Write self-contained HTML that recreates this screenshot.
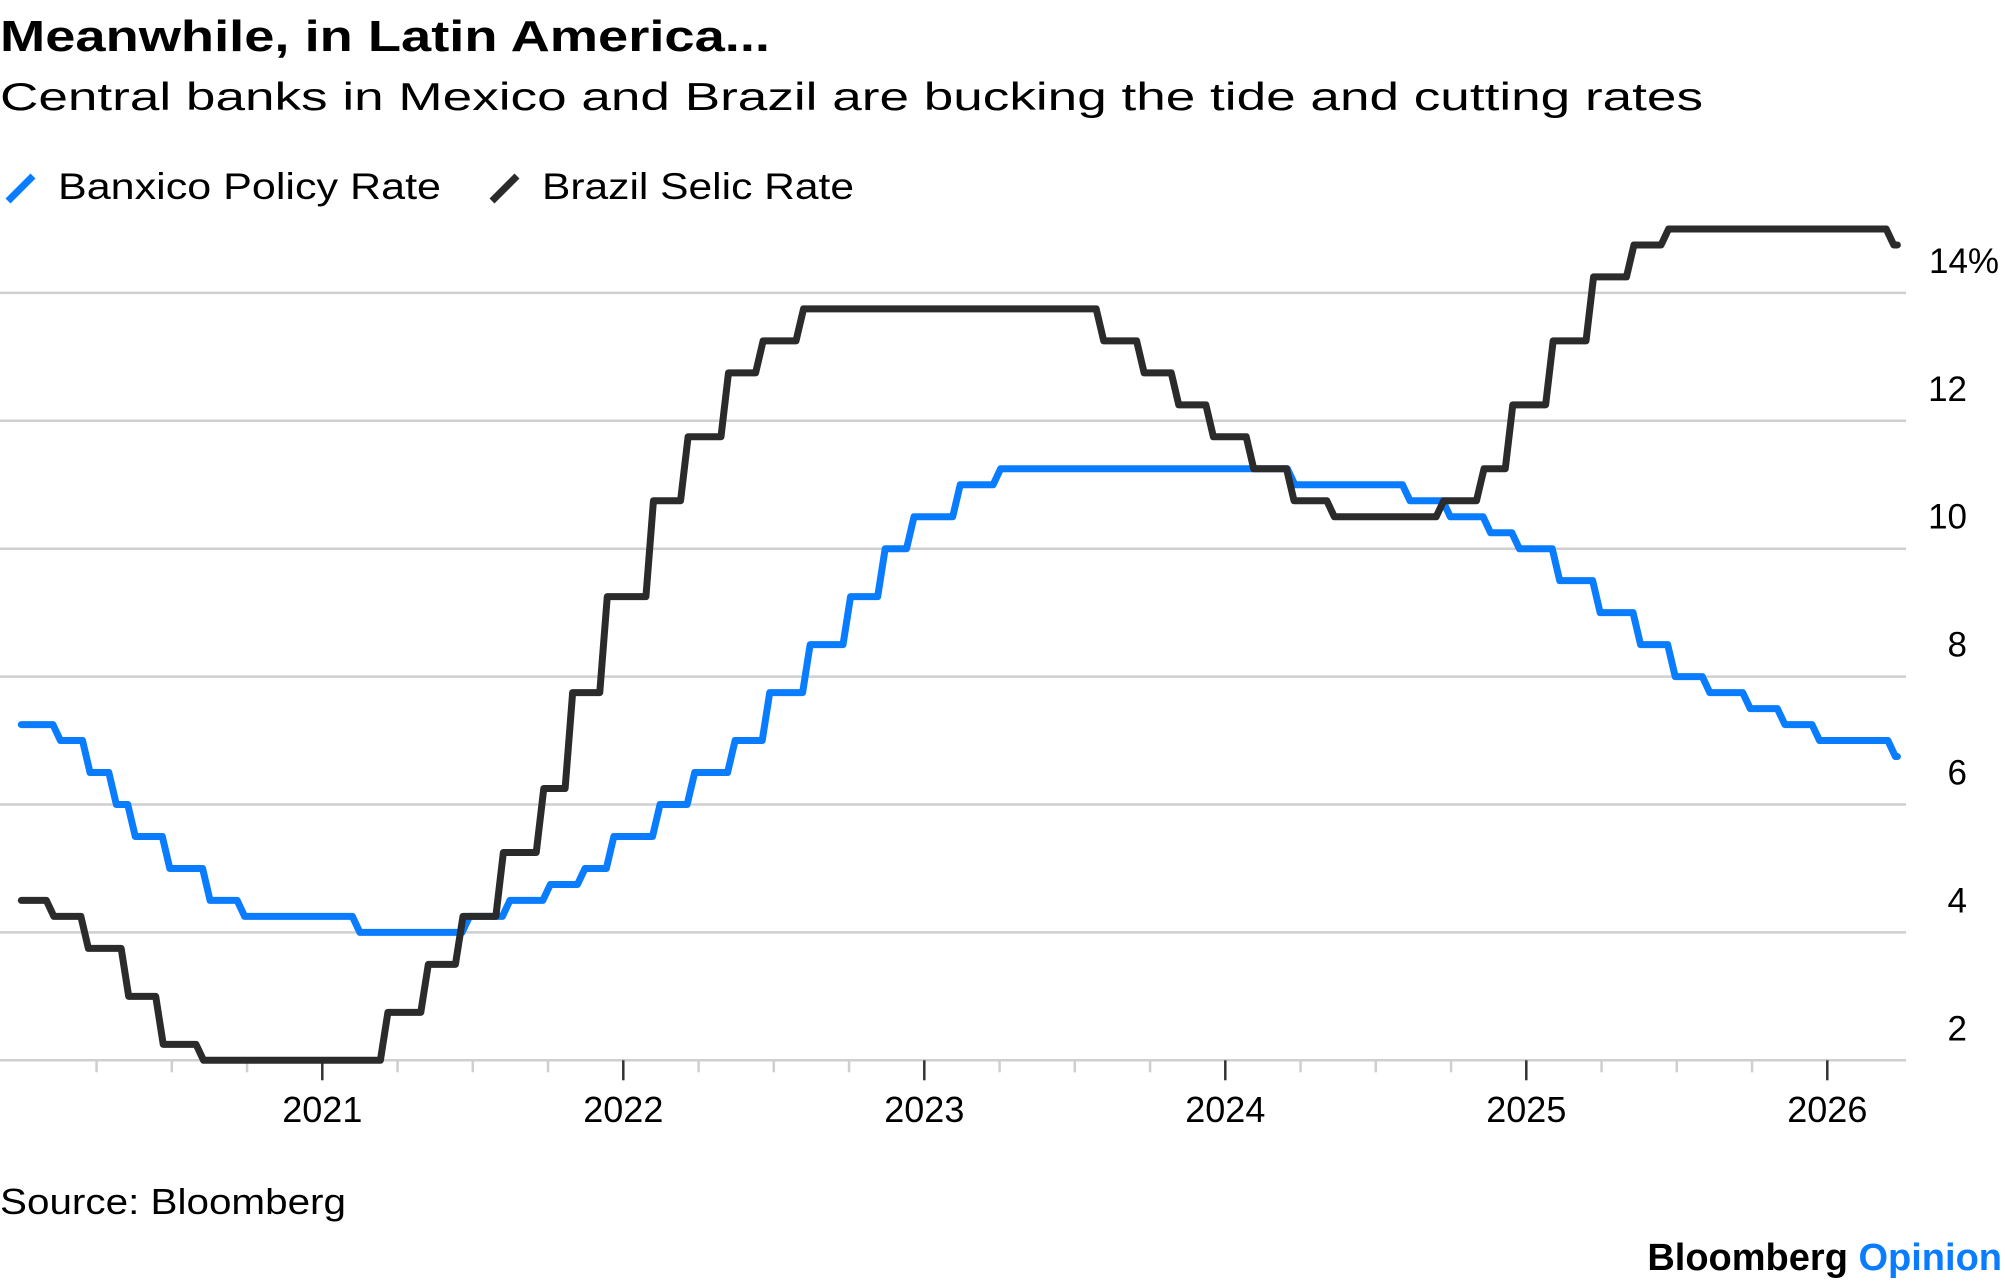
<!DOCTYPE html>
<html><head><meta charset="utf-8"><style>
html,body{margin:0;padding:0;background:#fff;}
svg{display:block;font-family:"Liberation Sans",Arial,sans-serif;}
</style></head><body>
<svg id="chart" width="2005" height="1287" viewBox="0 0 2005 1287">
<text x="0" y="51" font-size="44" font-weight="bold" textLength="770" lengthAdjust="spacingAndGlyphs" fill="#000">Meanwhile, in Latin America...</text>
<text x="0" y="110" font-size="39" textLength="1703" lengthAdjust="spacingAndGlyphs" fill="#000">Central banks in Mexico and Brazil are bucking the tide and cutting rates</text>
<g>
<g>
<line x1="8" y1="201" x2="33" y2="176" stroke="#0a7cff" stroke-width="7"/>
<text x="58" y="199" font-size="37" textLength="383" lengthAdjust="spacingAndGlyphs">Banxico Policy Rate</text>
</g>
<g>
<line x1="492" y1="201" x2="517" y2="176" stroke="#2b2b2b" stroke-width="7"/>
<text x="542" y="199" font-size="37" textLength="312" lengthAdjust="spacingAndGlyphs">Brazil Selic Rate</text>
</g>
</g>
<g id="grid"></g>
<g id="yaxis"></g>
<g id="xaxis"></g>
<g id="series"></g>
<text x="0" y="1214" font-size="36" textLength="346" lengthAdjust="spacingAndGlyphs">Source: Bloomberg</text>
<text x="2002" y="1270" font-size="38" font-weight="bold" text-anchor="end"><tspan fill="#000">Bloomberg </tspan><tspan fill="#0a7cff">Opinion</tspan></text>
</svg>
<script>
const yTicks = [2, 4, 6, 8, 10, 12, 14];
const yTickLabels = ["2", "4", "6", "8", "10", "12", "14%"];
const xYears = [2021, 2022, 2023, 2024, 2025, 2026];
const banxicoDates = ["2020-01-01","2020-02-13","2020-03-20","2020-04-21","2020-05-14","2020-06-25","2020-08-13","2020-09-24","2021-02-11","2021-06-24","2021-08-12","2021-09-30","2021-11-11","2021-12-16","2022-02-10","2022-03-24","2022-05-12","2022-06-23","2022-08-11","2022-09-29","2022-11-10","2022-12-15","2023-02-09","2023-03-30","2024-03-21","2024-08-08","2024-09-26","2024-11-14","2024-12-19","2025-02-06","2025-03-27","2025-05-15","2025-06-26","2025-08-07","2025-09-25","2025-11-06","2025-12-18","2026-03-20"];
const banxicoValues = [7.25,7.0,6.5,6.0,5.5,5.0,4.5,4.25,4.0,4.25,4.5,4.75,5.0,5.5,6.0,6.5,7.0,7.75,8.5,9.25,10.0,10.5,11.0,11.25,11.0,10.75,10.5,10.25,10.0,9.5,9.0,8.5,8.0,7.75,7.5,7.25,7.0,6.75];
const selicDates = ["2020-01-01","2020-02-05","2020-03-18","2020-05-06","2020-06-17","2020-08-05","2021-03-17","2021-05-05","2021-06-16","2021-08-04","2021-09-22","2021-10-27","2021-12-08","2022-02-02","2022-03-16","2022-05-04","2022-06-15","2022-08-03","2023-08-02","2023-09-20","2023-11-01","2023-12-13","2024-01-31","2024-03-20","2024-05-08","2024-09-18","2024-11-06","2024-12-11","2025-01-29","2025-03-19","2025-05-07","2025-06-18","2026-03-18"];
const selicValues = [4.5,4.25,3.75,3.0,2.25,2.0,2.75,3.5,4.25,5.25,6.25,7.75,9.25,10.75,11.75,12.75,13.25,13.75,13.25,12.75,12.25,11.75,11.25,10.75,10.5,10.75,11.25,12.25,13.25,14.25,14.75,15.0,14.75];
const endDate = "2026-03-27";

const NS = "http://www.w3.org/2000/svg";
const X0 = 322.3, PX_PER_YEAR = 301.0, Y2 = 1060.3, PX_PER_UNIT = 63.95;
const GRID_RIGHT = 1906, LABEL_RIGHT = 1967;
function dec(d){const p=d.split("-").map(Number);const s=Date.UTC(p[0],0,1),e=Date.UTC(p[0]+1,0,1);return p[0]+(Date.UTC(p[0],p[1]-1,p[2])-s)/(e-s);}
function xs(t){return X0+(t-2021)*PX_PER_YEAR;}
function ys(v){return Y2-(v-2)*PX_PER_UNIT;}
function mk(tag,attrs,parent){const e=document.createElementNS(NS,tag);for(const k in attrs)e.setAttribute(k,attrs[k]);parent.appendChild(e);return e;}

const grid=document.getElementById("grid"), yaxis=document.getElementById("yaxis"), xaxis=document.getElementById("xaxis"), series=document.getElementById("series");
yTicks.forEach((v,i)=>{
  const l=mk("line",{x1:0,x2:GRID_RIGHT,y1:ys(v),y2:ys(v),stroke:"#cfcfcf","stroke-width":2.5},grid);
  
  
  const t=mk("text",{x:LABEL_RIGHT,y:ys(v)-20,"font-size":35,fill:"#000"},yaxis);
  const lab=yTickLabels[i];
  if(lab.endsWith("%")){t.setAttribute("text-anchor","start");t.setAttribute("x",LABEL_RIGHT-38);}else{t.setAttribute("text-anchor","end");}
  t.textContent=lab;
  
  
});
for(let q=2020.25;q<2026.01;q+=0.25){
  const major=Math.abs(q-Math.round(q))<1e-6;
  const tk=mk("line",{x1:xs(q),x2:xs(q),y1:Y2,y2:Y2+(major?20:12),stroke:major?"#333":"#cfcfcf","stroke-width":2.5},xaxis);
  
  
}
xYears.forEach(y=>{
  const t=mk("text",{x:xs(y),y:1122,"font-size":36,"text-anchor":"middle",fill:"#000"},xaxis);
  t.textContent=String(y);
  
  
});
function stepPath(dates,vals){
  const slope=0.025;
  let d="";
  for(let i=0;i<dates.length;i++){
    const x=xs(dec(dates[i])), y=ys(vals[i]);
    if(i===0){d+="M"+x+" "+y;}
    else{d+=" L"+(x-PX_PER_YEAR*slope/2)+" "+ys(vals[i-1])+" L"+(x+PX_PER_YEAR*slope/2)+" "+y;}
  }
  d+=" L"+xs(dec(endDate))+" "+ys(vals[vals.length-1]);
  return d;
}
const pb=mk("path",{d:stepPath(banxicoDates,banxicoValues),fill:"none",stroke:"#0a7cff","stroke-width":7,"stroke-linejoin":"round","stroke-linecap":"round"},series);


const ps=mk("path",{d:stepPath(selicDates,selicValues),fill:"none",stroke:"#2b2b2b","stroke-width":7,"stroke-linejoin":"round","stroke-linecap":"round"},series);


</script>
</body></html>
